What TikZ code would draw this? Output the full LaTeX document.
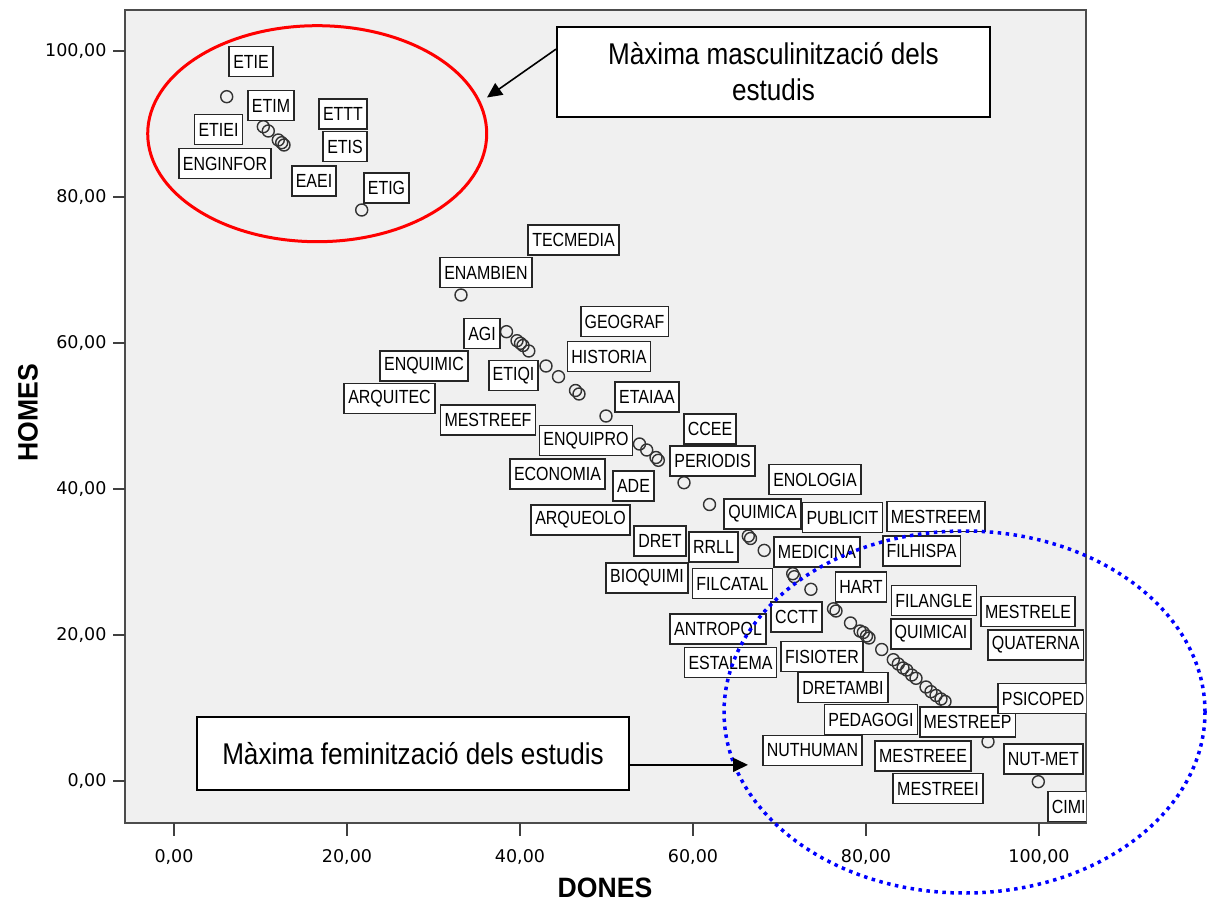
\documentclass[tikz,border=0pt]{standalone}
\usepackage{fontspec}
\setmainfont{Liberation Sans}
\newfontfamily\lblfont[FakeStretch=0.84]{Liberation Sans}
\newfontfamily\notefont[FakeStretch=0.87]{Liberation Sans}
\newfontfamily\titlefont[FakeStretch=0.95]{Liberation Sans}
\newfontfamily\tickfont{DejaVu Sans}
\usetikzlibrary{arrows.meta}

\begin{document}
\begin{tikzpicture}[
  x=1pt, y=-1pt,
  lbl/.style={draw=black!85, line width=1.8pt, fill=white, inner xsep=4pt, inner ysep=0pt,
    minimum height=30pt, font=\lblfont\fontsize{19}{22}\selectfont},
  note/.style={draw, line width=2pt, fill=white, align=center, font=\notefont\fontsize{30}{36}\selectfont},
  pt/.style={draw=black!80, line width=1.4pt},
  tickmark/.style={draw=black!75, line width=2pt},
  line/.style={-{Triangle[length=15pt,width=14pt]}, line width=1.6pt}
]
\path[use as bounding box, fill=white] (0,0) rectangle (1214,909);

% Frame and axes
\draw[line width=2pt, draw=black!70, fill=black!6] (125,10) rectangle (1086,823);
\foreach \v in {0,20,...,100} {
  \draw[tickmark] (113,{781-7.3*\v}) -- (125,{781-7.3*\v});
  \node[anchor=east, font=\tickfont\fontsize{17.5}{20}\selectfont] (yl\v) at (110,{781-7.3*\v}) {\v,00};
  \draw[tickmark] ({174+8.65*\v},823) -- ({174+8.65*\v},836);
  \node[font=\tickfont\fontsize{17.5}{20}\selectfont] (xl\v) at ({174+8.65*\v},857) {\v,00};
}
\node[rotate=90, font=\titlefont\bfseries\fontsize{28}{30}\selectfont] (homes) at (28,413) {HOMES};
\node[font=\titlefont\bfseries\fontsize{28}{30}\selectfont] (dones) at (605,888) {DONES};

\begin{scope}
\clip (125,10) rectangle (1086,823);
% Points
\foreach \px/\py in {226.7/96.7, 263.3/126.7, 268.3/131, 278.3/140, 281.7/142.7, 284/145, 361.7/210,
  461/295, 506.5/331.7, 517/340.7, 520.5/343.3, 523/345.5, 528.8/351, 546/366, 558.5/376.7,
  575.5/390.5, 579/394, 606/416, 639.5/444, 646.7/450, 656/457.5, 658.3/460.3, 684/482.7,
  709.5/504.5, 748.3/536, 750.5/538.5, 764.2/550.4, 792.7/573.7, 794.3/576.7, 810.9/589.3,
  833.5/608.8, 836/611, 850.5/623, 860/631, 863.3/632.5, 866.5/636, 869/638, 881.7/649.5,
  893.3/659.7, 898.3/664, 903/668, 906.7/670, 911.7/675, 916/678.3, 926/687, 931/691.7,
  936/695.5, 941/699, 945/701.5, 988/741.7, 1038.3/781.7}
  \draw[pt] (\px,\py) circle[radius=6pt];

% Labels
\foreach \nm/\px/\py in {ETIE/251/61.5, ETIM/271/105.5, ETIEI/218.5/129.5, ENGINFOR/225/163.5,
  ETTT/343/114, ETIS/345/146.5, EAEI/314/181, ETIG/386.5/188, TECMEDIA/573.5/240,
  ENAMBIEN/486/272.5, GEOGRAF/624.5/321.5, AGI/482/333.5, HISTORIA/609/356.5,
  ENQUIMIC/424/366, ETIQI/513.5/375.5, ARQUITEC/389.5/398.5, ETAIAA/647/397,
  MESTREEF/488/420, ENQUIPRO/586/440.5, CCEE/710/429, PERIODIS/712.5/461,
  ECONOMIA/557.5/474, ADE/633.5/486, ENOLOGIA/815/479.5, QUIMICA/762.5/514,
  PUBLICIT/842.5/517.5, MESTREEM/936/516.5, ARQUEOLO/580.5/520, DRET/660/541,
  RRLL/713.5/547, MEDICINA/817/552, FILHISPA/921.5/551, BIOQUIMI/647/578,
  FILCATAL/732.5/583.5, HART/861/587, FILANGLE/934/600.5, MESTRELE/1028/611.5,
  CCTT/796.5/617, ANTROPOL/718/629, QUIMICAI/931/634, ESTALEMA/730.5/662.5,
  FISIOTER/822/656.5, DRETAMBI/843/687.5, PEDAGOGI/871/719.5, MESTREEP/967.5/722,
  NUTHUMAN/812.5/750.5, MESTREEE/923/756, MESTREEI/938/788.5}
  \node[lbl] (\nm) at (\px,\py) {\nm};
\foreach \nm/\px/\py in {QUATERNA/987/645, PSICOPED/997/698.5, NUT-MET/1003/759, CIMI/1047/806.5}
  \node[lbl, anchor=west] (\nm) at (\px,\py) {\nm};
\end{scope}

% Highlighted groups
\draw[red, line width=3pt] (317.2,133.7) ellipse [x radius=169.5pt, y radius=108pt];
\draw[blue, line width=3.5pt, dash pattern=on 3.5pt off 4.5pt] (964.5,712) ellipse [x radius=240.5pt, y radius=181pt];

% Notes
\node[note, minimum width=433pt, minimum height=90pt] (masc) at (773.5,72) {Màxima masculinització dels\\ estudis};
\node[note, minimum width=432pt, minimum height=73pt] (fem) at (413,753.5) {Màxima feminització dels estudis};
\coordinate (mtip) at (487,97.5);
\coordinate (ftip) at (748,766);
\draw[line] (masc.174) -- (mtip);
\draw[line] (fem.-3) -- (fem.-3 -| ftip);

\end{tikzpicture}
\end{document}
